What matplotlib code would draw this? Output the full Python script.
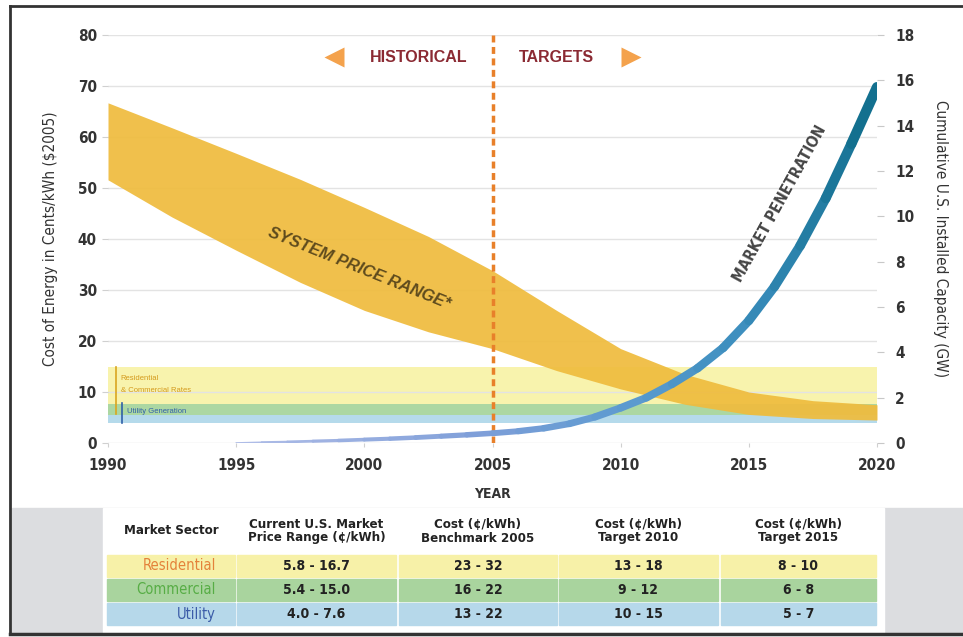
import numpy as np
import matplotlib
matplotlib.use("Agg")
import matplotlib.pyplot as plt
from matplotlib import font_manager
from matplotlib.collections import LineCollection
from matplotlib.colors import LinearSegmentedColormap
from matplotlib.patches import Rectangle
from matplotlib.font_manager import FontProperties

plt.rcParams["font.family"] = ["Liberation Sans", "DejaVu Sans"]

# look for a condensed face, fall back to Liberation Sans
cond = [f for f in font_manager.fontManager.ttflist
        if ("Condensed" in f.fname or "Narrow" in f.fname) and "Oblique" not in f.fname
        and "Italic" not in f.fname]
cond_reg = [f for f in cond if "Bold" not in f.fname]
cond_bold = [f for f in cond if "Bold" in f.fname]


def narrow(size, bold=False):
    pool = cond_bold if bold else cond_reg
    if pool:
        return FontProperties(fname=pool[0].fname, size=size)
    return FontProperties(family="Liberation Sans", size=size, weight="bold" if bold else "normal")


# ---- data ----
years = [1990, 1992.5, 1995, 1997.5, 2000, 2002.5, 2005, 2007.5, 2010, 2012.5, 2015, 2017.5, 2020]
price_upper = [66.7, 61.8, 56.8, 51.7, 46.2, 40.5, 33.8, 26.0, 18.5, 13.5, 10.0, 8.3, 7.5]
price_lower = [51.6, 44.3, 37.8, 31.5, 26.0, 21.8, 18.5, 14.2, 10.6, 7.6, 5.6, 4.8, 4.5]

mp_years = [1995, 1996, 1997, 1998, 1999, 2000, 2001, 2002, 2003, 2004, 2005, 2006, 2007,
            2008, 2009, 2010, 2011, 2012, 2013, 2014, 2015, 2016, 2017, 2018, 2019, 2020]
mp_gw = [0.0, 0.03, 0.05, 0.08, 0.11, 0.15, 0.19, 0.24, 0.30, 0.36, 0.43, 0.52, 0.65,
         0.85, 1.15, 1.55, 2.0, 2.6, 3.3, 4.2, 5.4, 6.9, 8.7, 10.8, 13.2, 15.7]

rc_rates = (5.4, 15.0)      # residential & commercial rates band
util_rates = (4.0, 7.6)     # utility generation band
split_year = 2005

header = ["Market Sector", "Current U.S. Market\nPrice Range (¢/kWh)", "Cost (¢/kWh)\nBenchmark 2005",
          "Cost (¢/kWh)\nTarget 2010", "Cost (¢/kWh)\nTarget 2015"]
sectors = ["Residential", "Commercial", "Utility"]
current_range = ["5.8 - 16.7", "5.4 - 15.0", "4.0 - 7.6"]
bench_2005 = ["23 - 32", "16 - 22", "13 - 22"]
target_2010 = ["13 - 18", "9 - 12", "10 - 15"]
target_2015 = ["8 - 10", "6 - 8", "5 - 7"]

row_colors = ["#f7f1a8", "#a9d49e", "#b6d8ea"]
sector_colors = ["#e4823a", "#57ad45", "#3b5ca8"]

# ---- figure ----
fig = plt.figure(figsize=(9.63, 6.37), dpi=100)
bg = fig.add_axes([0, 0, 1, 1])
bg.set_xlim(0, 963)
bg.set_ylim(637, 0)
bg.axis("off")

# frame and grey strip behind the table
bg.plot([10, 10], [6, 634], color="#333333", lw=2)
bg.plot([10, 963], [6, 6], color="#333333", lw=2)
bg.plot([10, 963], [634, 634], color="#333333", lw=2.5)
bg.add_patch(Rectangle((12, 508), 951, 125, color="#dcdde0", zorder=0))
bg.add_patch(Rectangle((103, 508), 781, 125, color="white", zorder=1))

# table
cols = [(107, 235), (237, 396), (399, 557), (559, 718), (721, 876)]
rows = [(555, 577), (579, 601), (603, 625)]
for (x0, x1), h in zip(cols, header):
    bg.text((x0 + x1) / 2, 531, h, ha="center", va="center", fontproperties=narrow(9.5, True),
            color="#222222", linespacing=1.1, zorder=3)
columns = [current_range, bench_2005, target_2010, target_2015]
for i, (y0, y1) in enumerate(rows):
    yc = (y0 + y1) / 2
    for (x0, x1) in cols:
        bg.add_patch(Rectangle((x0, y0), x1 - x0, y1 - y0, color=row_colors[i], zorder=2))
    bg.text(216, yc, sectors[i], ha="right", va="center", fontproperties=narrow(10.5),
            color=sector_colors[i], zorder=3)
    for (x0, x1), col in zip(cols[1:], columns):
        bg.text((x0 + x1) / 2, yc, col[i], ha="center", va="center", fontproperties=narrow(10, True),
                color="#222222", zorder=3)

# ---- main chart ----
ax = fig.add_axes([108 / 963, 1 - 443 / 637, 769 / 963, 408 / 637])
ax.set_zorder(2)
ax.patch.set_alpha(0)
ax.set_xlim(1990, 2020)
ax.set_ylim(0, 80)
for s in ax.spines.values():
    s.set_visible(False)
ax.set_yticks(range(0, 81, 10))
ax.set_xticks(range(1990, 2021, 5))
ax.grid(axis="y", color="#e3e3e3", lw=1, zorder=0)
ax.tick_params(axis="y", length=4, color="#d0d0d0", pad=4, labelcolor="#333333")
ax.tick_params(axis="x", length=3, color="#d0d0d0", pad=8, labelcolor="#333333")
for lab in ax.get_xticklabels() + ax.get_yticklabels():
    lab.set_fontproperties(narrow(11, True))

# rate bands
ax.axhspan(rc_rates[0], rc_rates[1], color="#f8f3ad", lw=0, zorder=1)
ax.axhspan(max(rc_rates[0], util_rates[0]), min(rc_rates[1], util_rates[1]), color="#acd7a2", lw=0, zorder=1)
ax.axhspan(util_rates[0], rc_rates[0], color="#b5daeb", lw=0, zorder=1)
ax.plot([1990.3, 1990.3], [rc_rates[0] + 0.3, rc_rates[1]], color="#d9a520", lw=1.2, zorder=2)
ax.plot([1990.55, 1990.55], [util_rates[0], util_rates[1] + 0.2], color="#2f5fa8", lw=1.2, zorder=2)
ax.text(1990.5, 12.7, "Residential", fontsize=5.5, color="#d49a1c", va="center", zorder=2)
ax.text(1990.5, 10.2, "& Commercial Rates", fontsize=5.5, color="#d49a1c", va="center", zorder=2)
ax.text(1990.75, 6.1, "Utility Generation", fontsize=5.5, color="#2f5fa8", va="center", zorder=2)

# system price range
ax.fill_between(years, price_lower, price_upper, color="#efbc3e", alpha=0.93, lw=0, zorder=3)
ax.text(1999.8, 34.3, "SYSTEM PRICE RANGE*", rotation=-22, ha="center", va="center",
        fontsize=12, fontweight="bold", fontstyle="italic", color="#5e4b1d", zorder=4)

# historical / targets divider
ax.axvline(split_year, color="#e8802a", ls=(0, (2.0, 1.3)), lw=2.5, zorder=4)
ax.text(2002.1, 75.6, "HISTORICAL", ha="center", va="center", fontsize=11.5,
        fontweight="bold", color="#8b2a33")
ax.text(2007.5, 75.6, "TARGETS", ha="center", va="center", fontsize=11.5,
        fontweight="bold", color="#8b2a33")
ax.plot([1998.8], [75.6], marker="<", ms=15, color="#f4a24c", mec="none")
ax.plot([2010.4], [75.6], marker=">", ms=15, color="#f4a24c", mec="none")

ax.set_xlabel("YEAR", fontproperties=narrow(10, True), color="#333333", labelpad=10)
ax.set_ylabel("Cost of Energy in Cents/kWh ($2005)", fontproperties=narrow(11),
              color="#333333", labelpad=14)

# market penetration on the right axis
ax2 = ax.twinx()
ax2.set_ylim(0, 18)
ax2.set_yticks(range(0, 19, 2))
for s in ax2.spines.values():
    s.set_visible(False)
ax2.tick_params(axis="y", length=5, color="#c8c8c8", pad=8, labelcolor="#333333")
for lab in ax2.get_yticklabels():
    lab.set_fontproperties(narrow(11, True))
ax2.set_ylabel("Cumulative U.S. Installed Capacity (GW)", rotation=-90, fontproperties=narrow(11),
               color="#333333", labelpad=24)

pts = np.column_stack([mp_years, mp_gw])
segs = np.stack([pts[:-1], pts[1:]], axis=1)
t = (np.array(mp_years[1:]) - mp_years[0]) / (mp_years[-1] - mp_years[0])
cmap = LinearSegmentedColormap.from_list(
    "mp", [(0, "#b3bfe8"), (0.4, "#7f9fd9"), (0.65, "#5a9acf"), (0.82, "#3a8dbd"), (1, "#13708f")])
lc = LineCollection(segs, colors=cmap(t), linewidths=0.6 + 6.8 * t ** 0.75,
                    capstyle="round", joinstyle="round", zorder=5)
ax2.add_collection(lc)
ax2.text(2016.2, 47.0 * 18 / 80, "MARKET PENETRATION", rotation=61, ha="center", va="center",
         fontproperties=narrow(11, True), color="#454545", zorder=6)

fig.savefig("out.png", dpi=100)
